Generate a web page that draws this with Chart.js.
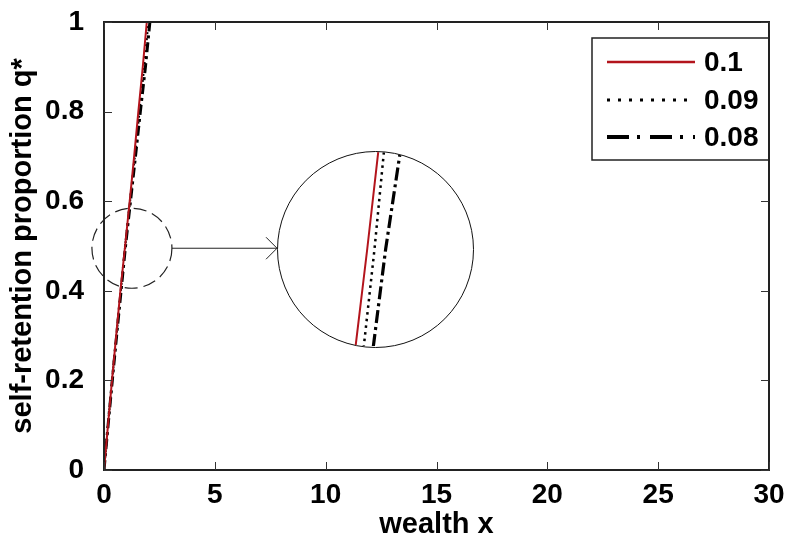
<!DOCTYPE html>
<html>
<head>
<meta charset="utf-8">
<script src="https://cdn.jsdelivr.net/npm/chart.js@4.4.1/dist/chart.umd.min.js"></script>
<style>
  html, body { margin: 0; padding: 0; background: #fff; }
  #wrap { position: relative; width: 787px; height: 547px; }
  #main { position: absolute; left: 0; top: 0; }
  #lens { position: absolute; box-sizing: border-box; border: 1.5px solid #111;
          border-radius: 50%; overflow: hidden; background: #fff; }
  #lens canvas { display: block; }
</style>
</head>
<body>
<div id="wrap">
  <canvas id="main" width="787" height="547"></canvas>
  <div id="lens"><canvas id="zoom"></canvas></div>
</div>
<script>
// self-retention proportion levels (y) and the wealth at which each is reached
const qLevels   = [0, 0.1, 0.2, 0.3, 0.4, 0.5, 0.6, 0.7, 0.8, 0.9, 1.0];
const wealthR10 = [0, 0.18, 0.36, 0.55, 0.74, 0.952, 1.16, 1.36, 1.55, 1.75, 1.93];
const wealthR09 = [0, 0.18, 0.365, 0.56, 0.755, 0.96, 1.175, 1.39, 1.60, 1.81, 2.00];
const wealthR08 = [0, 0.185, 0.375, 0.57, 0.77, 0.971, 1.195, 1.42, 1.64, 1.87, 2.07];
const seriesLabels = ['0.1', '0.09', '0.08'];

const xTickValues = [0, 5, 10, 15, 20, 25, 30];
const yTickValues = [0, 0.2, 0.4, 0.6, 0.8, 1];

// magnified window around q = 0.5
const lensQ   = [0.47, 0.50, 0.53];
const lensR10 = [0.934, 0.952, 0.969];
const lensR09 = [0.943, 0.9595, 0.974];
const lensR08 = [0.952, 0.971, 0.9935];

const FONT = "'Liberation Sans', Arial, Helvetica, sans-serif";
const pts = (xs, qs) => xs.map((x, i) => ({ x: x, y: qs[i] }));
const fmt = v => String(Math.round(v * 10) / 10);

// plot rectangle in canvas pixels
const AREA = { left: 104, top: 22, right: 769, bottom: 470 };

const styles = [
  { color: '#b3141c', width: 2,   dash: [],            legendDash: [],            legendWidth: 2.5 },
  { color: '#000000', width: 2.2, dash: [2, 4],        legendDash: [3, 8],        legendWidth: 3 },
  { color: '#000000', width: 3,   dash: [10, 4, 3, 4], legendDash: [22, 8, 3, 10], legendWidth: 4 }
];

function makeSet(label, data, st, lw, dash) {
  return {
    label: label, data: data,
    borderColor: st.color, borderWidth: lw, borderDash: dash,
    borderCapStyle: 'butt', pointRadius: 0, fill: false, tension: 0,
    legendDash: st.legendDash, legendWidth: st.legendWidth
  };
}

// frame, inward ticks, loupe marker, arrow and legend
const decorations = {
  id: 'decorations',
  afterDatasetsDraw(chart) {
    const { ctx, chartArea: a, scales } = chart;
    const xs = scales.x, ys = scales.y;
    ctx.save();
    ctx.strokeStyle = '#222';
    ctx.lineWidth = 2;
    ctx.beginPath();
    ctx.moveTo(a.left - 1, a.top); ctx.lineTo(a.right + 1, a.top);
    ctx.moveTo(a.right, a.top); ctx.lineTo(a.right, a.bottom);
    ctx.moveTo(a.left - 1, a.bottom); ctx.lineTo(a.right + 1, a.bottom);
    ctx.moveTo(a.left, a.top); ctx.lineTo(a.left, a.bottom);
    ctx.stroke();

    ctx.lineWidth = 1;
    ctx.strokeStyle = '#333';
    ctx.beginPath();
    xTickValues.forEach(v => {
      const px = Math.round(xs.getPixelForValue(v)) + 0.5;
      ctx.moveTo(px, a.bottom); ctx.lineTo(px, a.bottom - 8);
      ctx.moveTo(px, a.top); ctx.lineTo(px, a.top + 8);
    });
    yTickValues.forEach(v => {
      const py = Math.round(ys.getPixelForValue(v)) + 0.5;
      ctx.moveTo(a.left, py); ctx.lineTo(a.left + 8, py);
      ctx.moveTo(a.right, py); ctx.lineTo(a.right - 8, py);
    });
    ctx.stroke();

    // dashed loupe around the region that is magnified
    const cx = xs.getPixelForValue(1.26), cy = ys.getPixelForValue(0.495), r = 40;
    ctx.strokeStyle = '#222';
    ctx.lineWidth = 1.2;
    ctx.setLineDash([13, 6]);
    ctx.beginPath();
    ctx.arc(cx, cy, r, 0, Math.PI * 2);
    ctx.stroke();
    ctx.setLineDash([]);

    // arrow to the magnified view
    const lens = chart.$lens;
    if (lens) {
      const x0 = cx + r, x1 = lens.cx - lens.r;
      ctx.lineWidth = 1;
      ctx.beginPath();
      ctx.moveTo(x0, cy); ctx.lineTo(x1, cy);
      ctx.moveTo(x1 - 11, cy - 11); ctx.lineTo(x1, cy); ctx.lineTo(x1 - 11, cy + 11);
      ctx.stroke();
    }
    ctx.restore();
  },
  afterDraw(chart) {
    const { ctx, chartArea: a } = chart;
    const bx = 592, by = 38, bw = a.right - bx, bh = 122;
    ctx.save();
    ctx.fillStyle = '#fff';
    ctx.fillRect(bx, by, bw, bh);
    ctx.strokeStyle = '#222';
    ctx.lineWidth = 1.5;
    ctx.strokeRect(bx, by, bw, bh);
    ctx.lineWidth = 2;
    ctx.beginPath();
    ctx.moveTo(a.right, by - 2); ctx.lineTo(a.right, by + bh + 2);
    ctx.stroke();
    const rows = [62, 100, 137];
    chart.data.datasets.forEach((ds, i) => {
      const y = rows[i];
      ctx.strokeStyle = ds.borderColor;
      ctx.lineWidth = ds.legendWidth;
      ctx.setLineDash(ds.legendDash);
      ctx.lineCap = 'butt';
      ctx.beginPath();
      ctx.moveTo(607, y); ctx.lineTo(695, y);
      ctx.stroke();
      ctx.setLineDash([]);
      ctx.fillStyle = '#000';
      ctx.font = 'bold 28px ' + FONT;
      ctx.textAlign = 'left';
      ctx.textBaseline = 'middle';
      ctx.fillText(ds.label, 704, y + 1);
    });
    ctx.restore();
  }
};

const mainChart = new Chart(document.getElementById('main'), {
  type: 'line',
  data: {
    datasets: [
      makeSet(seriesLabels[0], pts(wealthR10, qLevels), styles[0], styles[0].width, styles[0].dash),
      makeSet(seriesLabels[1], pts(wealthR09, qLevels), styles[1], styles[1].width, styles[1].dash),
      makeSet(seriesLabels[2], pts(wealthR08, qLevels), styles[2], styles[2].width, styles[2].dash)
    ]
  },
  options: {
    responsive: false,
    animation: false,
    devicePixelRatio: 1,
    layout: { padding: { left: 0, right: 787 - AREA.right, top: AREA.top, bottom: 0 } },
    plugins: { legend: { display: false }, tooltip: { enabled: false } },
    scales: {
      x: {
        type: 'linear', min: 0, max: 30,
        afterBuildTicks: s => { s.ticks = xTickValues.map(v => ({ value: v })); },
        afterFit: s => { s.height = 547 - AREA.bottom; s.paddingLeft = 0; s.paddingRight = 0; },
        grid: { display: false },
        border: { display: true, color: '#222', width: 2 },
        ticks: { padding: 0, color: '#000', maxRotation: 0, autoSkip: false, callback: fmt,
                 font: { family: FONT, size: 28, weight: 'bold' } },
        title: { display: true, text: 'wealth x', color: '#000',
                 font: { family: FONT, size: 29, weight: 'bold' },
                 padding: { top: 0, bottom: 5 } }
      },
      y: {
        type: 'linear', min: 0, max: 1,
        afterBuildTicks: s => { s.ticks = yTickValues.map(v => ({ value: v })); },
        afterFit: s => { s.width = AREA.left; s.paddingTop = 0; s.paddingBottom = 0; },
        grid: { display: false },
        border: { display: true, color: '#222', width: 2 },
        ticks: { padding: 12, color: '#000', autoSkip: false, callback: fmt,
                 font: { family: FONT, size: 28, weight: 'bold' } },
        title: { display: true, text: 'self-retention proportion q*', color: '#000',
                 font: { family: FONT, size: 29, weight: 'bold' },
                 padding: { top: 6, bottom: 0 } }
      }
    }
  },
  plugins: [decorations]
});

// nudge the layout padding until the plot rectangle sits where intended
for (let k = 0; k < 3; k++) {
  const a = mainChart.chartArea;
  const p = mainChart.options.layout.padding;
  p.top += AREA.top - a.top;
  p.right += a.right - AREA.right;
  p.left += AREA.left - a.left;
  p.bottom += a.bottom - AREA.bottom;
  mainChart.update();
}

// place the magnified view and draw it
const lensCx = mainChart.scales.x.getPixelForValue(12.25);
const lensCy = mainChart.scales.y.getPixelForValue(0.493);
const lensR = 98.5;
mainChart.$lens = { cx: lensCx, cy: lensCy, r: lensR };
mainChart.draw();

const lensDiv = document.getElementById('lens');
lensDiv.style.left = (lensCx - lensR) + 'px';
lensDiv.style.top = (lensCy - lensR) + 'px';
lensDiv.style.width = (2 * lensR) + 'px';
lensDiv.style.height = (2 * lensR) + 'px';
const zc = document.getElementById('zoom');
const inner = Math.round(2 * lensR - 3);
zc.width = inner; zc.height = inner;

new Chart(zc, {
  type: 'line',
  data: {
    datasets: [
      makeSet(seriesLabels[0], pts(lensR10, lensQ), styles[0], 2, []),
      makeSet(seriesLabels[1], pts(lensR09, lensQ), styles[1], 2.5, [2.5, 4.2]),
      makeSet(seriesLabels[2], pts(lensR08, lensQ), styles[2], 3.2, [13, 4, 3, 4])
    ]
  },
  options: {
    responsive: false,
    animation: false,
    devicePixelRatio: 1,
    layout: { padding: 0 },
    plugins: { legend: { display: false }, tooltip: { enabled: false } },
    scales: {
      x: { type: 'linear', display: false, min: 0.86, max: 1.06 },
      y: { type: 'linear', display: false, min: 0.48, max: 0.52 }
    }
  }
});
</script>
</body>
</html>
